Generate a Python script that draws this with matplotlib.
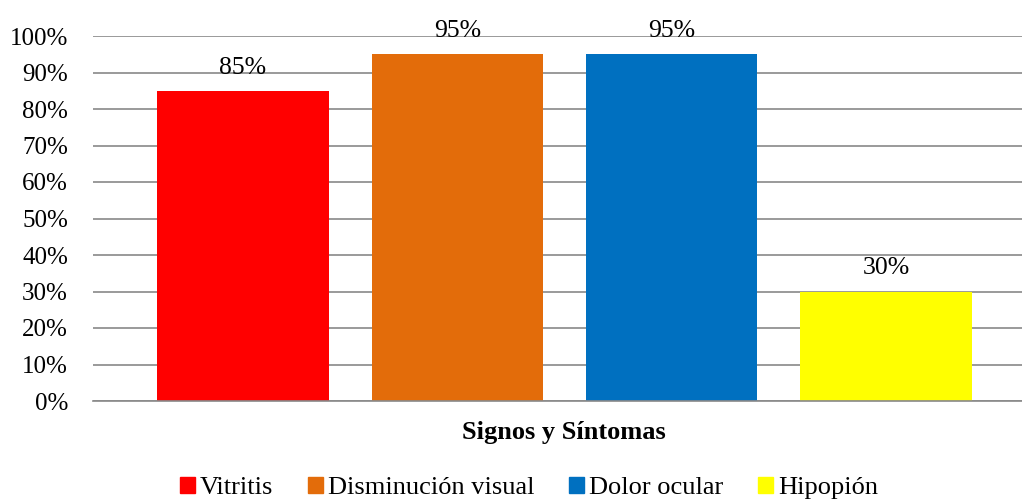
import matplotlib.pyplot as plt
from matplotlib.patches import Patch

plt.rcParams['font.family'] = ['Liberation Serif', 'DejaVu Serif']

categories = ["Vitritis", "Disminución visual", "Dolor ocular", "Hipopión"]
values = [85, 95, 95, 30]
colors = ["#FF0000", "#E36C0A", "#0070C0", "#FFFF00"]
yticks = [0, 10, 20, 30, 40, 50, 60, 70, 80, 90, 100]
xlabel = "Signos y Síntomas"

fig = plt.figure(figsize=(10.22, 4.99), dpi=100)
ax = fig.add_axes([93 / 1022, 98 / 499, 929 / 1022, 365 / 499])

xs = list(range(len(values)))
bars = ax.bar(xs, values, width=0.8, color=colors, zorder=3)
for x, v in zip(xs, values):
    ax.annotate(f"{v}%", (x, v), xytext=(0, 12.3), textcoords="offset points",
                ha="center", va="baseline", fontsize=18.5, zorder=5)

ax.set_ylim(0, 100)
ax.set_xlim(-0.7, 3.634)
ax.set_yticks(yticks)
ax.set_yticklabels([f"{t}%" for t in yticks], fontsize=18)
ax.tick_params(axis="y", length=0, pad=18)
ax.set_xticks([])
ax.yaxis.grid(True, color="#898989", linewidth=1.2, zorder=0)
for s in ["top", "right", "left"]:
    ax.spines[s].set_visible(False)
ax.spines["bottom"].set_color("#898989")
ax.spines["bottom"].set_linewidth(1.2)
ax.spines["bottom"].set_zorder(4)

fig.text(564 / 1022, 1 - 433 / 499, xlabel, ha="center", va="center",
         fontsize=19, fontweight="bold")

# legend row under the axis title
handles = [Patch(color=c, label=l) for c, l in zip(colors, categories)]
fig.legend(handles=handles, loc="center", bbox_to_anchor=(529 / 1022, 1 - 488 / 499),
           ncol=4, frameon=False, fontsize=19, handlelength=0.55, handleheight=0.55,
           handletextpad=0.2, columnspacing=1.32, borderaxespad=0, borderpad=0)

fig.savefig("out.png", dpi=100)
